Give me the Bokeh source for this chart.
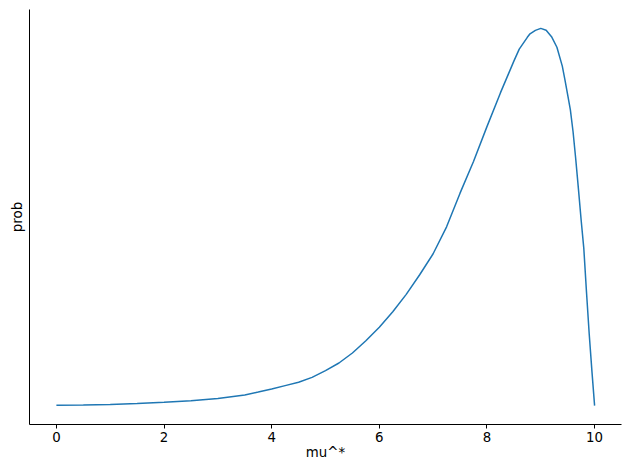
from bokeh.plotting import figure
from bokeh.models import DataRange1d, FixedTicker
from bokeh.embed import file_html
from bokeh.resources import INLINE

mu = [0, 0.5, 1, 1.5, 2, 2.5, 3, 3.5, 3.75, 4, 4.25, 4.5, 4.75, 5, 5.25, 5.5, 5.75,
      6, 6.25, 6.5, 6.75, 7, 7.25, 7.5, 7.75, 8, 8.25, 8.5, 8.6, 8.75, 8.8, 8.9,
      9.0, 9.1, 9.2, 9.3, 9.4, 9.45, 9.5, 9.55, 9.6, 9.65, 9.7, 9.75, 9.8, 9.85,
      9.9, 9.95, 10]
prob = [0.0013, 0.0018, 0.0032, 0.0058, 0.0092, 0.0132, 0.0189, 0.0282, 0.036,
        0.044, 0.053, 0.062, 0.075, 0.093, 0.113, 0.1395, 0.172, 0.208, 0.249,
        0.295, 0.347, 0.4026, 0.474, 0.5632, 0.647, 0.7395, 0.8289, 0.9132,
        0.945, 0.9763, 0.9855, 0.9947, 1.0, 0.995, 0.978, 0.950, 0.900, 0.863,
        0.824, 0.784, 0.726, 0.653, 0.574, 0.492, 0.416, 0.300, 0.190, 0.092, 0.0]
x_ticks = [0, 2, 4, 6, 8, 10]

FONT = "DejaVu Sans"

p = figure(width=622, height=462, output_backend="svg", toolbar_location=None,
           x_range=DataRange1d(range_padding=0.1), y_range=DataRange1d(range_padding=0.1),
           min_border_top=9, min_border_right=1, min_border_left=29, min_border_bottom=35)
p.outline_line_color = None
p.grid.visible = False
p.background_fill_color = "white"

p.line(mu, prob, line_color="#1f77b4", line_width=1.5)

xa = p.xaxis[0]
xa.ticker = FixedTicker(ticks=x_ticks)
xa.minor_tick_line_color = None
xa.major_tick_in = 0
xa.major_tick_out = 4
xa.major_tick_line_color = "black"
xa.major_label_text_font = FONT
xa.major_label_text_font_size = "10pt"
xa.major_label_text_color = "black"
xa.major_label_standoff = 3
xa.axis_label = "mu^*"
xa.axis_label_text_font = FONT
xa.axis_label_text_font_size = "10pt"
xa.axis_label_text_font_style = "normal"
xa.axis_label_text_color = "black"
xa.axis_label_standoff = 0
xa.axis_line_color = "black"

ya = p.yaxis[0]
ya.ticker = FixedTicker(ticks=[])
ya.minor_tick_line_color = None
ya.major_tick_line_color = None
ya.major_label_text_font_size = "0pt"
ya.axis_label = "prob"
ya.axis_label_text_font = FONT
ya.axis_label_text_font_size = "10pt"
ya.axis_label_text_font_style = "normal"
ya.axis_label_text_color = "black"
ya.axis_label_standoff = 5
ya.axis_line_color = "black"

open("out.html", "w").write(file_html(p, INLINE))
